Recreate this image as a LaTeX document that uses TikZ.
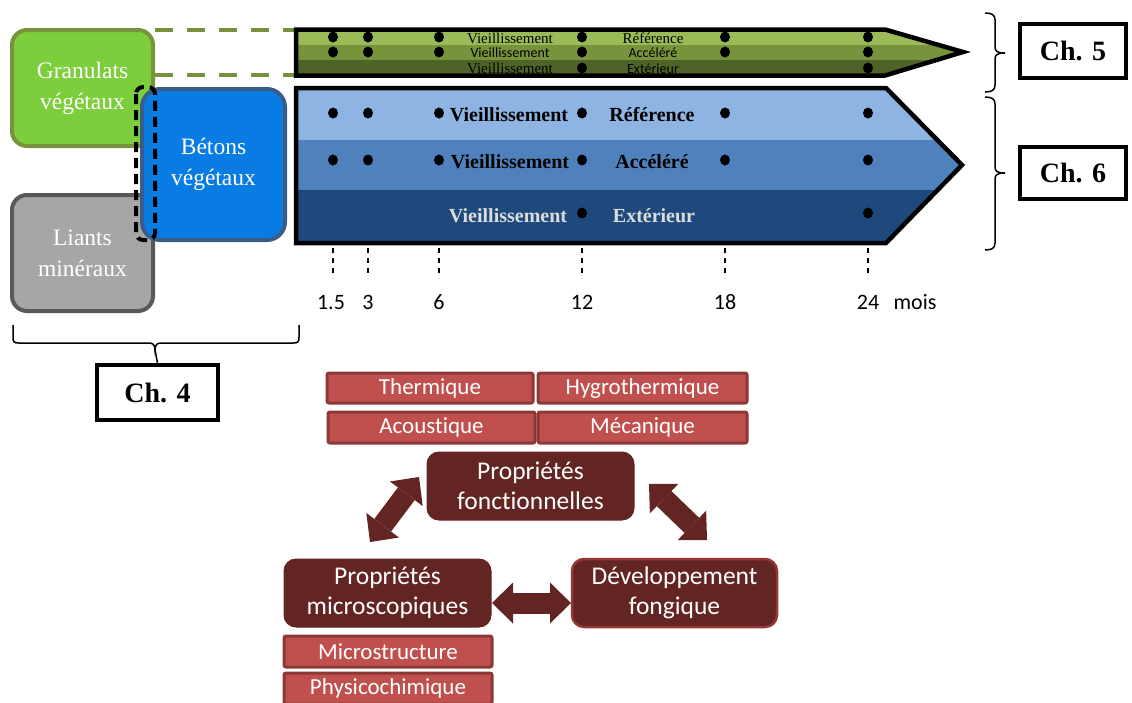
\documentclass[tikz,border=0pt]{standalone}
\usepackage{fontspec}
\setmainfont{Liberation Serif}
\newfontfamily\calibri{Carlito}[Ligatures=NoCommon]
\usetikzlibrary{arrows.meta}
\definecolor{greenfill}{RGB}{125,206,60}
\definecolor{olive}{RGB}{119,147,60}
\definecolor{greyfill}{RGB}{166,166,166}
\definecolor{greyborder}{RGB}{89,89,89}
\definecolor{bluefill}{RGB}{8,124,226}
\definecolor{blueborder}{RGB}{56,93,138}
\definecolor{gA}{RGB}{155,187,89}
\definecolor{gB}{RGB}{119,147,60}
\definecolor{gC}{RGB}{79,98,40}
\definecolor{bA}{RGB}{142,180,227}
\definecolor{bB}{RGB}{79,129,189}
\definecolor{bC}{RGB}{31,73,125}
\definecolor{redfill}{RGB}{192,80,77}
\definecolor{redborder}{RGB}{140,56,54}
\definecolor{darkred}{RGB}{99,37,35}
\definecolor{devborder}{RGB}{149,55,53}
\definecolor{lightgrey}{RGB}{220,220,220}
\begin{document}
\begin{tikzpicture}[x=1pt,y=-1pt,
  matbox/.style={draw, line width=4pt, rounded corners=15pt, text=white, align=center,
    font=\fontsize{23.5}{31}\selectfont, inner sep=0pt},
  chbox/.style={draw, line width=4.5pt, fill=white, inner sep=0pt,
    font=\fontsize{28}{30}\selectfont\bfseries},
  redbox/.style={draw=redborder, fill=redfill, line width=3pt, text=white, inner sep=0pt,
    rounded corners=2pt, font=\calibri\fontsize{23}{26}\selectfont},
  propbox/.style={fill=darkred, draw=darkred, line width=1pt, rounded corners=12pt, text=white,
    align=center, inner sep=0pt, font=\calibri\fontsize{25.5}{30}\selectfont},
  bluetxt/.style={anchor=base, inner sep=0pt, font=\fontsize{20}{22}\selectfont\bfseries},
  gserif/.style={anchor=base, inner sep=0pt, font=\fontsize{15}{16}\selectfont},
  gsans/.style={anchor=base, inner sep=0pt, font=\calibri\fontsize{14}{16}\selectfont},
  numlabel/.style={anchor=base, inner sep=0pt, font=\calibri\fontsize{22}{24}\selectfont},
  olivedash/.style={draw=olive, line width=4.5pt, dash pattern=on 18pt off 14pt},
  tickline/.style={line width=1.2pt, dash pattern=on 5pt off 5pt},
  bracestyle/.style={line width=1.5pt},
  blockarr/.style={draw=darkred, line width=21pt,
    {Triangle[length=21pt,width=41pt,line width=0pt]}-{Triangle[length=21pt,width=41pt,line width=0pt]}}
]
\useasboundingbox (0,0) rectangle (1132,702);

% material boxes
\node[matbox, fill=greenfill, draw=olive, minimum width=141pt, minimum height=116pt] (gran) at (82.5,88) {Granulats\\végétaux};
\node[matbox, fill=greyfill, draw=greyborder, minimum width=141pt, minimum height=116pt] (liant) at (82.5,253) {Liants\\minéraux};
\node[matbox, fill=bluefill, draw=blueborder, rounded corners=18pt, minimum width=143pt, minimum height=151pt] (beton) at (213.5,164.5) {Bétons\\végétaux};
\draw[line width=4pt, dash pattern=on 10pt off 6pt, rounded corners=7pt] (136,87) rectangle (155,240);

% dashed olive connectors
\coordinate (gl1) at (155,30);
\coordinate (gl2) at (296,30);
\coordinate (gl3) at (155,75);
\coordinate (gl4) at (296,75);
\draw[olivedash] (gl1) -- (gl2);
\draw[olivedash] (gl3) -- (gl4);

% green arrow
\begin{scope}
\clip (296,29.5) -- (885,29.5) -- (963,52) -- (885,75.5) -- (296,75.5) -- cycle;
\fill[gA] (290,20) rectangle (970,45);
\fill[gB] (290,45) rectangle (970,60);
\fill[gC] (290,60) rectangle (970,80);
\foreach \x in {333,368,439,582,725,868} {
  \fill (\x,37) ellipse (5pt and 5.5pt);
  \fill (\x,52) ellipse (5pt and 5.5pt);
}
\foreach \x in {582,868} { \fill (\x,68) ellipse (5pt and 5.5pt); }
\node[gserif] (g1v) at (510,43) {Vieillissement};
\node[gserif] (g1r) at (653,43) {Référence};
\node[gsans] (g2v) at (510,57.5) {Vieillissement};
\node[gsans] (g2a) at (653,57.5) {Accéléré};
\node[gserif] (g3v) at (510,73.5) {Vieillissement};
\node[gsans] (g3e) at (653,73.5) {Extérieur};
\end{scope}
\draw[line width=4.5pt, line join=miter] (296,29.5) -- (885,29.5) -- (963,52) -- (885,75.5) -- (296,75.5) -- cycle;

% blue arrow
\begin{scope}
\clip (296,88) -- (886,88) -- (962,165) -- (886,243) -- (296,243) -- cycle;
\fill[bA] (290,80) rectangle (970,140);
\fill[bB] (290,140) rectangle (970,190);
\fill[bC] (290,190) rectangle (970,250);
\end{scope}
\foreach \x in {333,368,439,582,725,868} {
  \fill (\x,113) ellipse (5pt and 5.5pt);
  \fill (\x,160) ellipse (5pt and 5.5pt);
}
\foreach \x in {582,868} { \fill (\x,213) ellipse (5pt and 5.5pt); }
\node[bluetxt] (b1v) at (509,121) {Vieillissement};
\node[bluetxt] (b1r) at (652,121) {Référence};
\node[bluetxt] (b2v) at (510,168) {Vieillissement};
\node[bluetxt] (b2a) at (652,168) {Accéléré};
\node[bluetxt, text=lightgrey] (b3v) at (508,222) {Vieillissement};
\node[bluetxt, text=lightgrey] (b3e) at (654,222) {Extérieur};
\draw[line width=4.5pt, line join=miter] (296,88) -- (886,88) -- (962,165) -- (886,243) -- (296,243) -- cycle;

% time ticks
\foreach \x in {333,368,439,582,725,868} { \draw[tickline] (\x,248) -- (\x,278); }
\node[numlabel] (t1) at (331,309) {1.5};
\node[numlabel] (t2) at (368,309) {3};
\node[numlabel] (t3) at (439,309) {6};
\node[numlabel] (t4) at (582,309) {12};
\node[numlabel] (t5) at (725,309) {18};
\node[numlabel] (t6) at (868,309) {24};
\node[numlabel] (t7) at (915,309) {mois};

% right braces and chapter boxes
\draw[bracestyle] (985,13) .. controls (992,13) and (995,15) .. (995,20) -- (995,47)
  .. controls (995,51) and (997,53) .. (1005,53)
  .. controls (997,53) and (995,55) .. (995,59) -- (995,85)
  .. controls (995,90) and (992,92) .. (985,92);
\draw[bracestyle] (985,97) .. controls (992,97) and (995,99) .. (995,104) -- (995,167)
  .. controls (995,171) and (997,173) .. (1005,173)
  .. controls (997,173) and (995,175) .. (995,179) -- (995,243)
  .. controls (995,248) and (992,250) .. (985,250);
\node[chbox, minimum width=106pt, minimum height=54pt] (ch5) at (1073,51) {Ch. 5};
\node[chbox, minimum width=106pt, minimum height=52pt] (ch6) at (1073,173) {Ch. 6};

% bottom brace and Ch. 4
\draw[bracestyle] (13,325) -- (13,337) .. controls (13,342) and (14,343) .. (19,343) -- (149,343)
  .. controls (153,343) and (155,345) .. (155,350)
  .. controls (155,345) and (157,343) .. (161,343) -- (293,343)
  .. controls (298,343) and (299,342) .. (299,337) -- (299,325);
\coordinate (b4tip) at (155,350);
\node[chbox, minimum width=121pt, minimum height=55pt] (ch4) at (157.5,392.5) {Ch. 4};
\draw[bracestyle] (b4tip) -- (ch4.north);

% property boxes
\node[redbox, minimum width=206pt, minimum height=30pt] (therm) at (430,388) {Thermique};
\node[redbox, minimum width=209pt, minimum height=30pt] (hygro) at (642.5,388) {Hygrothermique};
\node[redbox, minimum width=207pt, minimum height=31pt] (acous) at (431.5,427.5) {Acoustique};
\node[redbox, minimum width=209pt, minimum height=31pt] (meca) at (642.5,427.5) {Mécanique};
\node[propbox, minimum width=207pt, minimum height=68pt] (fonc) at (530.5,486) {Propriétés\\fonctionnelles};
\node[propbox, minimum width=207pt, minimum height=68pt] (micro) at (387.5,593) {Propriétés\\microscopiques};
\node[propbox, draw=devborder, line width=2.5pt, minimum width=205pt, minimum height=68pt] (fong) at (674.5,593) {Développement\\fongique};
\node[redbox, minimum width=208pt, minimum height=31pt] (mstruct) at (388,651.5) {Microstructure};
\node[redbox, minimum width=208pt, minimum height=31pt] (physico) at (388,688.5) {Physicochimique};

% block double arrows
\coordinate (la) at (370,542);
\coordinate (lb) at (419,477);
\coordinate (ra) at (649,484);
\coordinate (rb) at (707,540);
\coordinate (ha) at (492,603);
\coordinate (hb) at (571,603);
\draw[blockarr] (la) -- (lb);
\draw[blockarr] (ra) -- (rb);
\draw[blockarr] (ha) -- (hb);
\end{tikzpicture}
\end{document}
